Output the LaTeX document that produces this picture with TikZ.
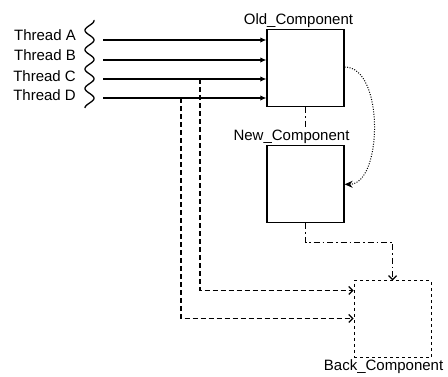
\documentclass[tikz,border=0pt]{standalone}
\usepackage{fontspec}
\setmainfont{Liberation Sans}
\usetikzlibrary{positioning,arrows.meta}
\tikzset{
  >={Latex[length=6pt,width=5.5pt]},
  every label/.style={font=\fontsize{15}{17}\selectfont, inner sep=1pt},
  comp/.style={draw, line width=1.3pt, minimum width=77pt, minimum height=77pt, inner sep=0pt},
  thread/.style={anchor=east, inner sep=0pt, font=\fontsize{15}{17}\selectfont},
  call/.style={->, line width=1.3pt},
  reroute/.style={-{Straight Barb[length=4pt,width=8pt]}, line width=1.3pt, dash pattern=on 5pt off 3pt},
  handoff/.style={line width=1.2pt, dash pattern=on 6pt off 3pt on 1.5pt off 3pt},
  swap/.style={-{Stealth[length=8pt,width=7pt]}, line width=1pt, dash pattern=on 1pt off 1.5pt},
}

\begin{document}
\begin{tikzpicture}[x=1pt, y=-1pt]
    \useasboundingbox (0,0) rectangle (448,376);
    % components
    \node[comp, label={[xshift=-7pt]above:Old\_Component}] (old) at (305.5,68) {};
    \node[comp, below=38pt of old, label={[name=newlbl, xshift=-14pt]above:New\_Component}] (new) {};
    \node[comp, dashed, line width=0.9pt, below right=57pt and 9pt of new.south east, anchor=north west,
          label={[xshift=-9pt]below:Back\_Component}] (back) {};
    % threads
    \foreach \t/\y/\ty in {A/40/35.5, B/60/55.5, C/79/76, D/98/95} {
      \node[thread] (t\t) at (76,\ty) {Thread \t};
      \coordinate (s\t) at (103,\y);
      \draw[call] (s\t) -- (s\t -| old.west);
    }
    \draw[line width=1.3pt, domain=-20:68, samples=120, variable=\v]
      plot ({89.5+4.5*cos(\v*18.56)}, {40+\v});
    % rerouted calls
    \coordinate (dC) at (200,79);
    \coordinate (dD) at (181,98);
    \draw[reroute] (dC) |- ([yshift=-10pt]back.north west);
    \draw[reroute] (dD) |- ([yshift=-38pt]back.north west);
    % state transfer
    \draw[handoff] (old.south) -- (old.south |- newlbl.north);
    \draw[handoff, -{Straight Barb[length=4pt,width=8pt]}] (new.south) -- ++(0,19) -| (back.north);
    \draw[swap] ([yshift=1pt]old.east) .. controls +(40,0) and +(38,0) .. (new.east);
\end{tikzpicture}
\end{document}
